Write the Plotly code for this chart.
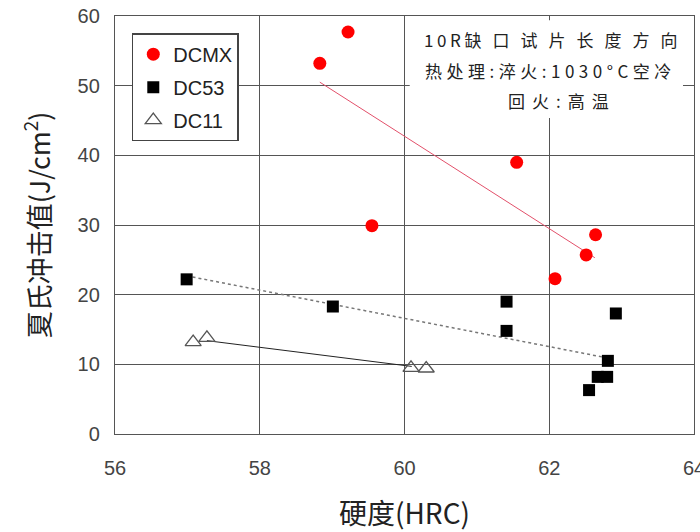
import plotly.graph_objects as go

# ---- data ----
dcmx_x = [58.83, 59.22, 59.55, 61.55, 62.08, 62.51, 62.64]
dcmx_y = [53.2, 57.7, 29.9, 39.0, 22.3, 25.7, 28.6]
dcmx_trend_x = [58.83, 62.63]
dcmx_trend_y = [50.5, 25.3]

dc53_x = [56.99, 59.01, 61.41, 61.41, 62.92, 62.81, 62.67, 62.80, 62.55]
dc53_y = [22.2, 18.3, 19.0, 14.8, 17.3, 10.5, 8.2, 8.2, 6.3]
dc53_trend_x = [56.99, 62.81]
dc53_trend_y = [22.7, 10.9]

dc11_x = [57.08, 57.27, 60.09, 60.30]
dc11_y = [13.2, 13.8, 9.5, 9.4]
dc11_trend_x = [57.27, 60.10]
dc11_trend_y = [13.4, 9.7]

x_ticks = [56, 58, 60, 62, 64]
y_ticks = [0, 10, 20, 30, 40, 50, 60]

note_lines = ["10R缺 口 试 片 长 度 方 向", "热处理:淬火:1030°C空冷", "回火:高温"]
note_spacing = [3.6, 4.5, 7]

FONT = "Liberation Sans, Arial, Noto Sans CJK SC, sans-serif"
CJK = "Noto Sans CJK SC, Liberation Sans, sans-serif"

fig = go.Figure()

# trend lines
fig.add_trace(go.Scatter(x=dcmx_trend_x, y=dcmx_trend_y, mode="lines",
                         line=dict(color="#e2506a", width=1), showlegend=False, hoverinfo="skip"))
fig.add_trace(go.Scatter(x=dc53_trend_x, y=dc53_trend_y, mode="lines",
                         line=dict(color="#777777", width=1.5, dash="dot"), showlegend=False, hoverinfo="skip"))
fig.add_trace(go.Scatter(x=dc11_trend_x, y=dc11_trend_y, mode="lines",
                         line=dict(color="#222222", width=1), showlegend=False, hoverinfo="skip"))

# data series
fig.add_trace(go.Scatter(x=dcmx_x, y=dcmx_y, mode="markers", name="DCMX", legendgroup="a",
                         marker=dict(symbol="circle", size=13, color="#ff0000")))
fig.add_trace(go.Scatter(x=dc53_x, y=dc53_y, mode="markers", name="DC53", legendgroup="b",
                         marker=dict(symbol="square", size=12, color="#000000")))
fig.add_trace(go.Scatter(x=dc11_x, y=dc11_y, mode="markers", name="DC11", legendgroup="c",
                         marker=dict(symbol="triangle-up-open", size=14, color="#555555",
                                     line=dict(width=1.3, color="#555555"))))

# white note box
fig.add_shape(type="rect", xref="paper", yref="paper", x0=0.509, x1=0.981, y0=0.756, y1=0.99,
              fillcolor="white", line=dict(width=0), layer="above")

note_y_px = [40, 70, 100]
note_x = [0.755, 0.752, 0.772]
for txt, sp, ypx, xx in zip(note_lines, note_spacing, note_y_px, note_x):
    fig.add_annotation(xref="paper", yref="paper", x=xx, y=(434 - ypx) / 418,
                       text=f'<span style="letter-spacing:{sp}px">{txt}</span>',
                       showarrow=False, font=dict(family=CJK, size=17, color="#222"),
                       xanchor="center", yanchor="middle")

fig.update_layout(
    width=700, height=532,
    margin=dict(l=115, r=6, t=16, b=98),
    paper_bgcolor="white", plot_bgcolor="white",
    font=dict(family=FONT, color="#333"),
    showlegend=True,
    legend=dict(x=0.029, y=0.959, xanchor="left", yanchor="top",
                bgcolor="white", bordercolor="#444", borderwidth=1.5,
                font=dict(family=FONT, size=20, color="#222"),
                traceorder="grouped", tracegroupgap=4),
    xaxis=dict(range=[56, 64], tickvals=x_ticks, ticktext=[str(v) for v in x_ticks],
               showgrid=True, gridcolor="#555", gridwidth=1.3, zeroline=False,
               showline=True, linecolor="#555", linewidth=1.3, mirror=True, ticks="",
               ticklabelstandoff=16, ticklabeloverflow="allow", automargin=False,
               tickfont=dict(family=FONT, size=20, color="#444"),
               title=dict(text="硬度(HRC)", font=dict(family=CJK, size=28, color="#222"), standoff=30)),
    yaxis=dict(range=[0, 60], tickvals=y_ticks, ticktext=[str(v) for v in y_ticks],
               showgrid=True, gridcolor="#555", gridwidth=1.3, zeroline=False,
               showline=True, linecolor="#555", linewidth=1.3, mirror=True, ticks="",
               ticklabelstandoff=10, ticklabeloverflow="allow", automargin=False,
               tickfont=dict(family=FONT, size=20, color="#444"),
               title=dict(text="夏氏冲击值(J/cm<sup>2</sup>)", font=dict(family=CJK, size=27, color="#222"), standoff=19)),
)

fig.write_html("out.html", config={"displayModeBar": False},
               post_script="document.body.style.margin='0';document.body.style.overflow='hidden';")
